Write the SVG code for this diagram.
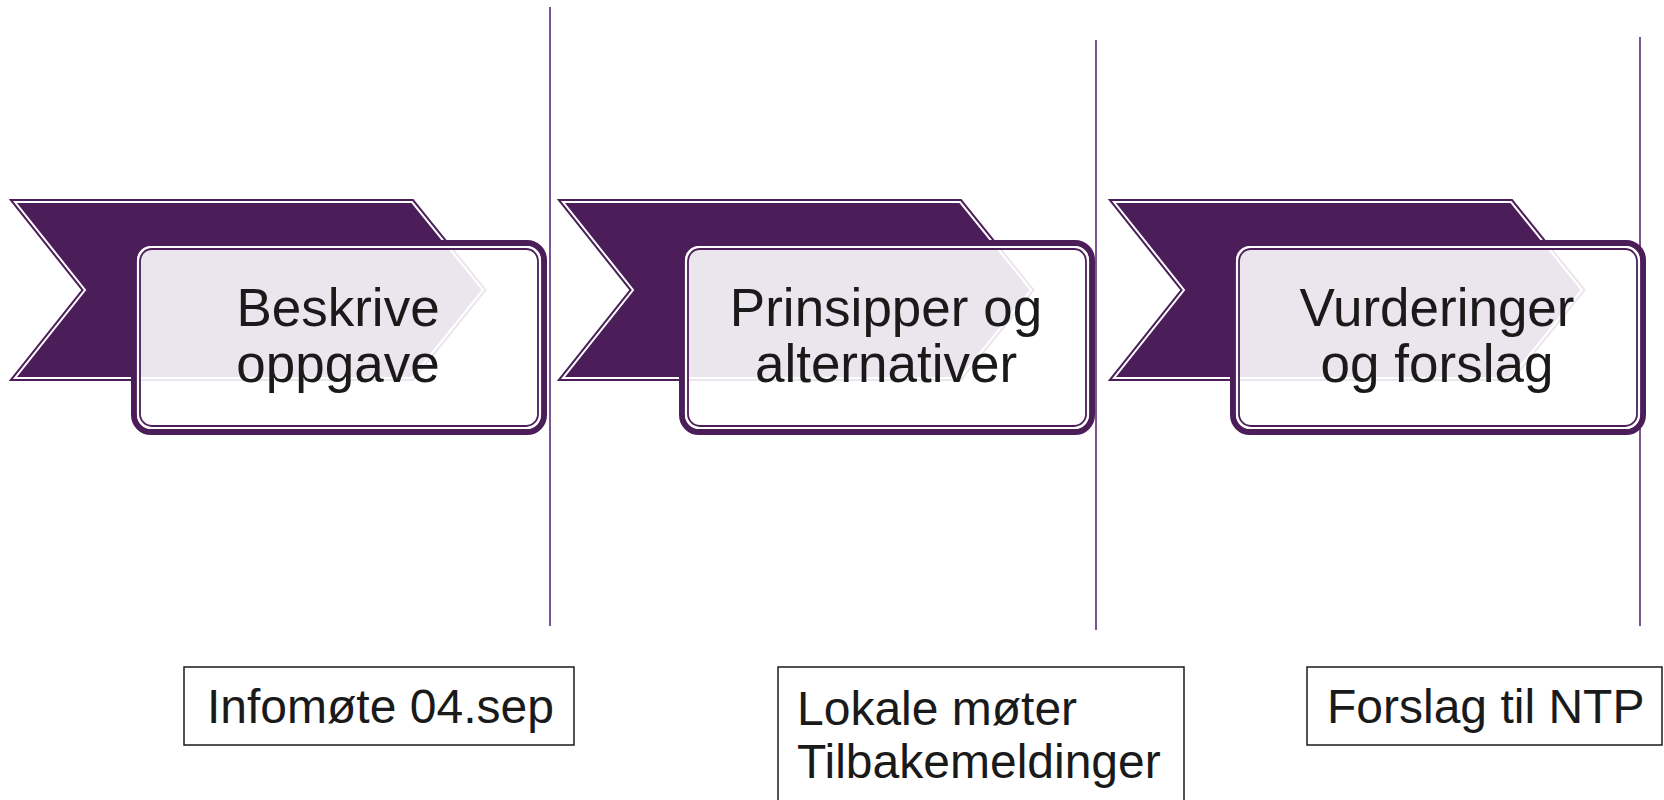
<svg xmlns="http://www.w3.org/2000/svg" xmlns:xlink="http://www.w3.org/1999/xlink" width="1664" height="800" viewBox="0 0 1664 800">
<style>
.chev-out{fill:#4B1E5A;stroke:#4B1E5A;stroke-width:6;stroke-linejoin:miter}
.chev-in{fill:#4B1E5A;stroke:#ffffff;stroke-width:2;stroke-linejoin:miter}
.box-a{fill:#ffffff;fill-opacity:0.89;stroke:#4B1E5A;stroke-width:6}
.box-w{fill:none;stroke:#ffffff;stroke-width:2.2}
.box-b{fill:none;stroke:#4B1E5A;stroke-width:1.8}
.lbl{font-family:"Liberation Sans",Arial,sans-serif;font-size:53px;fill:#1a1a1a;text-anchor:middle}
.note{fill:#ffffff;stroke:#1a1a1a;stroke-width:1.5}
.ntxt{font-family:"Liberation Sans",Arial,sans-serif;font-size:48px;fill:#1a1a1a}
.div{stroke:#58297A;stroke-width:1.6}
</style>
<defs>
<polygon id="chev" points="15,202 412,202 483,290 412,378 15,378 85,290"/>
<g id="stage">
<use xlink:href="#chev" href="#chev" class="chev-out"/>
<use xlink:href="#chev" href="#chev" class="chev-in"/>
<rect class="box-a" x="134" y="243" width="410" height="189" rx="17"/>
<rect class="box-w" x="138" y="247" width="402" height="181" rx="14"/>
<rect class="box-b" x="140" y="249" width="398" height="177" rx="12"/>
</g>
</defs>
<rect width="1664" height="800" fill="#ffffff"/>
<g id="dividers">
<line class="div" x1="550" y1="7" x2="550" y2="626"/>
<line class="div" x1="1096" y1="40" x2="1096" y2="630"/>
<line class="div" x1="1640" y1="37" x2="1640" y2="626"/>
</g>
<g id="connectors"/>
<g id="node1">
<use xlink:href="#stage" href="#stage"/>
<text class="lbl" x="338" y="326">Beskrive</text>
<text class="lbl" x="338" y="382">oppgave</text>
</g>
<g id="node2" transform="translate(548,0)">
<use xlink:href="#stage" href="#stage"/>
<text class="lbl" x="338" y="326">Prinsipper og</text>
<text class="lbl" x="338" y="382">alternativer</text>
</g>
<g id="node3" transform="translate(1099,0)">
<use xlink:href="#stage" href="#stage"/>
<text class="lbl" x="338" y="326">Vurderinger</text>
<text class="lbl" x="338" y="382">og forslag</text>
</g>
<g id="note1">
<rect class="note" x="184" y="667" width="390" height="78"/>
<text class="ntxt" x="207" y="723">Infomøte 04.sep</text>
</g>
<g id="note2">
<rect class="note" x="778" y="667" width="406" height="160"/>
<text class="ntxt" x="797" y="725">Lokale møter</text>
<text class="ntxt" x="797" y="778">Tilbakemeldinger</text>
</g>
<g id="note3">
<rect class="note" x="1307" y="667" width="355" height="78"/>
<text class="ntxt" x="1327" y="723">Forslag til NTP</text>
</g>
</svg>
